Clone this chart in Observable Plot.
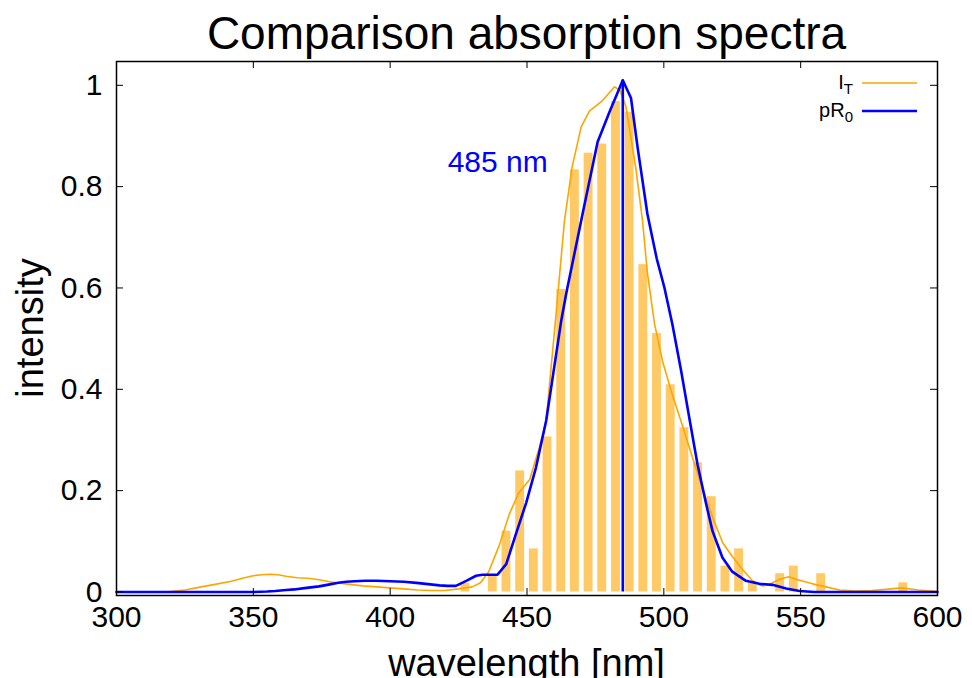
<!DOCTYPE html>
<html><head><meta charset="utf-8">
<script src="https://cdn.jsdelivr.net/npm/d3@7"></script>
<script src="https://cdn.jsdelivr.net/npm/@observablehq/plot@0.6"></script>
<style>
body{margin:0;background:#fff;font-family:"Liberation Sans",Arial,sans-serif;}
#wrap{position:relative;width:972px;height:678px;overflow:hidden;background:#fff;}
.ov{position:absolute;line-height:1;white-space:nowrap;color:#000;}
.ov sub{font-size:0.75em;vertical-align:-0.3em;line-height:0;}
</style></head><body><div id="wrap"></div>
<script>
const titleText = "Comparison absorption spectra";
const xLabel = "wavelength [nm]";
const yLabel = "intensity";
const xTicks = [300, 350, 400, 450, 500, 550, 600];
const yTicks = [0, 0.2, 0.4, 0.6, 0.8, 1];
const yTickLabels = ["0", "0.2", "0.4", "0.6", "0.8", "1"];

// histogram bars (bin centres, nm) and heights
const barWl  = [427.5, 437.5, 442.5, 447.5, 452.5, 457.5, 462.5, 467.5, 472.5, 477.5, 482.5, 487.5, 492.5, 497.5, 502.5, 507.5, 512.5, 517.5, 522.5, 527.5, 532.5, 542.5, 547.5, 557.5, 587.5];
const barVal = [0.017, 0.034, 0.12, 0.239, 0.085, 0.306, 0.597, 0.833, 0.866, 0.884, 0.968, 0.947, 0.646, 0.51, 0.409, 0.324, 0.255, 0.188, 0.051, 0.085, 0.018, 0.036, 0.051, 0.036, 0.018];

// I_T curve (orange)
const itWl  = [300, 318, 325, 330, 335, 342, 346, 350, 353, 356, 359, 362, 366, 370, 374, 379, 385, 390, 395, 400, 405, 410, 415, 420, 425, 430, 433, 436, 440, 443.5, 447, 451, 454.5, 457, 460.4, 463.7, 466.5, 469.8, 472.8, 477.6, 482, 484, 486.2, 489.8, 492.2, 494, 496.6, 499.5, 503, 507, 510.5, 514, 518, 521.5, 525, 528.7, 532.4, 536, 538.6, 542.3, 545.6, 549.6, 554.4, 559.3, 564.2, 570, 576, 581, 587, 593, 600];
const itVal = [0, 0, 0.004, 0.009, 0.014, 0.021, 0.027, 0.032, 0.034, 0.035, 0.034, 0.031, 0.028, 0.027, 0.024, 0.019, 0.015, 0.012, 0.01, 0.008, 0.006, 0.004, 0.003, 0.003, 0.006, 0.01, 0.018, 0.04, 0.094, 0.153, 0.196, 0.222, 0.285, 0.338, 0.536, 0.733, 0.839, 0.918, 0.949, 0.97, 0.997, 0.99, 0.957, 0.835, 0.733, 0.63, 0.529, 0.456, 0.391, 0.325, 0.265, 0.206, 0.145, 0.097, 0.07, 0.045, 0.022, 0.012, 0.015, 0.025, 0.03, 0.023, 0.016, 0.01, 0.004, 0.002, 0.003, 0.005, 0.008, 0.004, 0.001];

// pR_0 curve (blue)
const prWl  = [300, 350, 355, 358, 362, 365, 368, 371, 374, 378, 381, 384, 387, 391, 395, 400, 405, 409.6, 413, 418, 421, 424, 427.8, 431.4, 433.7, 439.2, 442.4, 446, 449.7, 453.3, 457, 462.5, 464.3, 470.3, 475.8, 480.1, 485, 488, 490.4, 494, 497.4, 500.2, 503.1, 506.3, 509.3, 512.3, 515.4, 517.8, 521.4, 525, 530, 534.9, 539.7, 544.7, 549.6, 555, 600];
const prVal = [0, 0, 0.001, 0.002, 0.004, 0.005, 0.007, 0.009, 0.011, 0.015, 0.018, 0.02, 0.021, 0.022, 0.022, 0.021, 0.02, 0.018, 0.016, 0.013, 0.012, 0.012, 0.022, 0.032, 0.034, 0.034, 0.055, 0.115, 0.176, 0.246, 0.338, 0.535, 0.588, 0.746, 0.888, 0.947, 1.01, 0.975, 0.878, 0.746, 0.658, 0.601, 0.529, 0.437, 0.344, 0.252, 0.175, 0.12, 0.068, 0.04, 0.022, 0.016, 0.014, 0.007, 0.002, 0, 0];

const peakWl = [485];
const peakVal = [1.01];
const annX = [439.3];
const annY = [0.848];
const annText = ["485 nm"];

const bars = barWl.map((w, i) => ({wl: w, v: barVal[i]}));
const it = itWl.map((w, i) => ({wl: w, v: itVal[i]}));
const pr = prWl.map((w, i) => ({wl: w, v: prVal[i]}));
const peak = peakWl.map((w, i) => ({wl: w, v: peakVal[i]}));
const ann = annX.map((x, i) => ({x, y: annY[i], t: annText[i]}));

const W = 972, H = 678, mT = 61, mB = 83, mL = 116, mR = 35;
const pw = W - mL - mR, ph = H - mT - mB, tk = 7;

const chart = Plot.plot({
  width: W, height: H,
  marginTop: mT, marginBottom: mB, marginLeft: mL, marginRight: mR,
  style: {fontFamily: "'Liberation Sans', Arial, sans-serif", fontSize: "30px", background: "#fff", color: "#000"},
  x: {domain: [300, 600], ticks: xTicks, tickSize: 0, tickPadding: 10, label: null},
  y: {domain: [-0.007, 1.047], ticks: yTicks, tickSize: 0, tickPadding: 14, label: null,
      tickFormat: d => yTickLabels[yTicks.indexOf(d)] ?? d},
  marks: [
    Plot.rectY(bars, {x: "wl", y: "v", interval: 5, fill: "orange", fillOpacity: 0.6, insetLeft: 2.4, insetRight: 2.4}),
    Plot.line(it, {x: "wl", y: "v", stroke: "orange", strokeWidth: 1.6, curve: "linear"}),
    Plot.line(pr, {x: "wl", y: "v", stroke: "blue", strokeWidth: 2.6, curve: "linear"}),
    Plot.ruleX(peak, {x: "wl", y1: 0, y2: "v", stroke: "blue", strokeWidth: 2.6}),
    Plot.text(ann, {x: "x", y: "y", text: "t", fill: "blue", fontSize: 30}),
    Plot.tickX(xTicks, {insetTop: ph - tk, stroke: "#000", strokeWidth: 1}),
    Plot.tickX(xTicks, {insetBottom: ph - tk, stroke: "#000", strokeWidth: 1}),
    Plot.tickY(yTicks, {insetRight: pw - tk, stroke: "#000", strokeWidth: 1}),
    Plot.tickY(yTicks, {insetLeft: pw - tk, stroke: "#000", strokeWidth: 1}),
    Plot.frame({stroke: "#000", strokeWidth: 1.5})
  ]
});

const wrap = document.getElementById("wrap");
chart.style.position = "absolute";
chart.style.left = "0px";
chart.style.top = "0px";
wrap.appendChild(chart);

function ov(html, css) {
  const d = document.createElement("div");
  d.className = "ov";
  d.innerHTML = html;
  Object.assign(d.style, css);
  wrap.appendChild(d);
  return d;
}
// title
ov(titleText, {left: (mL + pw / 2) + "px", top: "10px", fontSize: "46px", transform: "translateX(-50%)"});
// x label
ov(xLabel, {left: (mL + pw / 2) + "px", top: "644px", fontSize: "38px", transform: "translateX(-50%)"});
// y label
ov(yLabel, {left: "30px", top: "328px", fontSize: "38px", transform: "translate(-50%,-50%) rotate(-90deg)"});

// legend
const legendNames = ["I<sub>T</sub>", "pR<sub>0</sub>"];
const legendColors = ["orange", "blue"];
const legendWidths = [1.6, 2.6];
const legendRowY = [83, 111];
legendNames.forEach((n, i) => {
  ov(n, {fontSize: "20px", top: (legendRowY[i] - 11) + "px", right: (W - 853) + "px", textAlign: "right"});
  const svgNS = "http://www.w3.org/2000/svg";
  const s = document.createElementNS(svgNS, "svg");
  s.setAttribute("width", 56); s.setAttribute("height", 8);
  s.style.position = "absolute"; s.style.left = "862px"; s.style.top = (legendRowY[i] - 4) + "px";
  const l = document.createElementNS(svgNS, "line");
  l.setAttribute("x1", 0); l.setAttribute("x2", 55); l.setAttribute("y1", 4); l.setAttribute("y2", 4);
  l.setAttribute("stroke", legendColors[i]); l.setAttribute("stroke-width", legendWidths[i]);
  s.appendChild(l);
  wrap.appendChild(s);
});
</script></body></html>
